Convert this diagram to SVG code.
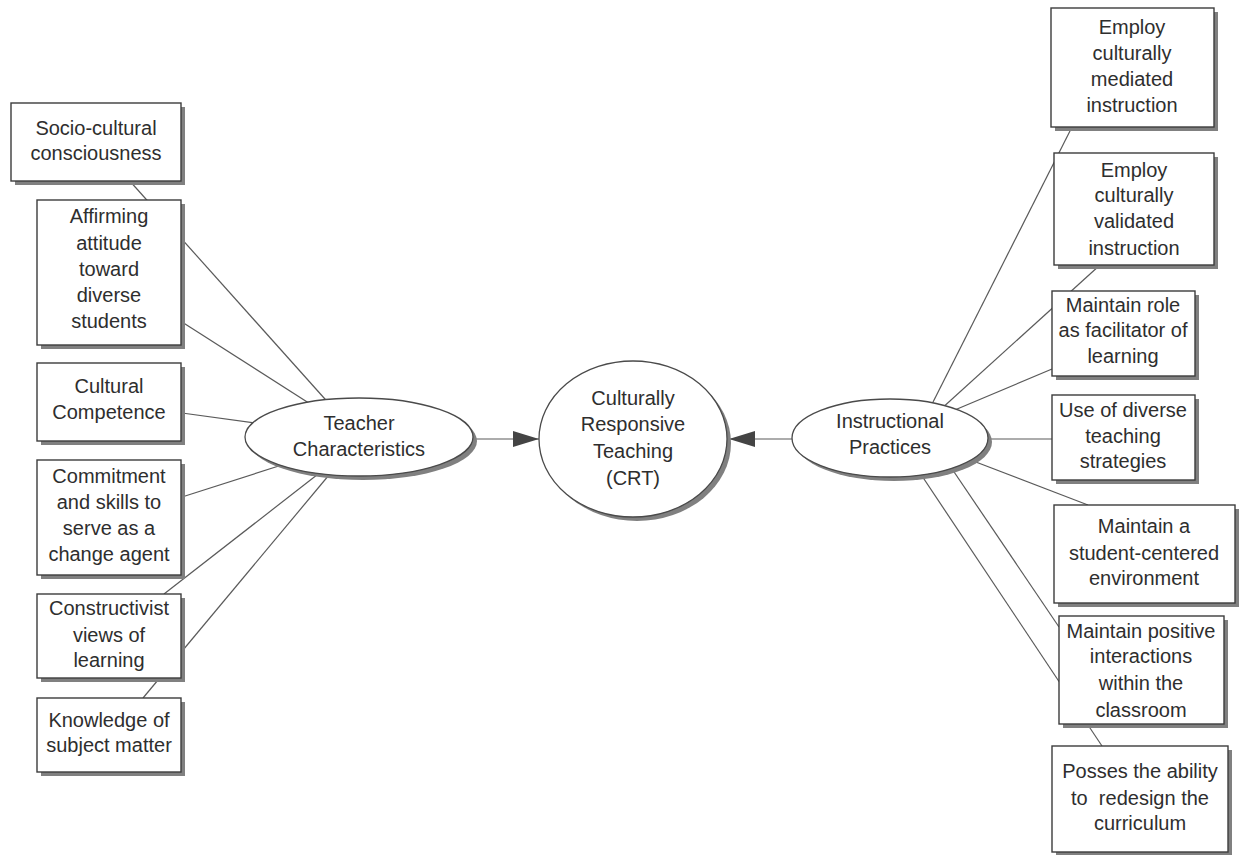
<svg xmlns="http://www.w3.org/2000/svg" width="1239" height="855" viewBox="0 0 1239 855">
<defs>
<style>
.bx{fill:#fff;stroke:#3c3c3c;stroke-width:1.4}
.sh{fill:#808080}
.el{fill:#fff;stroke:#4a4a4a;stroke-width:1.3}
.t{font-family:"Liberation Sans",Arial,sans-serif;font-size:20px;fill:#2e2e2e;text-anchor:middle}
.ln{stroke:#5a5a5a;stroke-width:1.2;fill:none}
</style>
<marker id="arr" markerWidth="26" markerHeight="16" refX="26" refY="8" orient="auto" markerUnits="userSpaceOnUse">
<path d="M0,0 L26,8 L0,16 z" fill="#444"/>
</marker>
</defs>
<rect width="1239" height="855" fill="#fff"/>
<g id="connectors">
<line class="ln" x1="128" y1="179" x2="333" y2="408"/>
<line class="ln" x1="182" y1="322" x2="315" y2="407"/>
<line class="ln" x1="182" y1="413" x2="262" y2="424"/>
<line class="ln" x1="182" y1="497" x2="285" y2="464"/>
<line class="ln" x1="164" y1="594" x2="322" y2="471"/>
<line class="ln" x1="143" y1="698" x2="334" y2="469"/>
<line class="ln" x1="1072" y1="127" x2="928" y2="412"/>
<line class="ln" x1="1100" y1="265" x2="940" y2="410"/>
<line class="ln" x1="1052" y1="369" x2="950" y2="412"/>
<line class="ln" x1="1052" y1="439" x2="980" y2="439"/>
<line class="ln" x1="1088" y1="505" x2="968" y2="459"/>
<line class="ln" x1="1059" y1="627" x2="948" y2="463"/>
<line class="ln" x1="1102" y1="746" x2="918" y2="470"/>
<line class="ln" x1="468" y1="439" x2="539" y2="439" marker-end="url(#arr)"/>
<line class="ln" x1="800" y1="439" x2="729" y2="439" marker-end="url(#arr)"/>
</g>
<g id="teacher-characteristics">
<ellipse class="sh" cx="363" cy="441" rx="114" ry="39"/>
<ellipse class="el" cx="359" cy="437" rx="114" ry="39"/>
<text class="t" x="359" y="430">Teacher</text>
<text class="t" x="359" y="456">Characteristics</text>
</g>
<g id="crt">
<ellipse class="sh" cx="637" cy="443" rx="94" ry="78"/>
<ellipse class="el" cx="633" cy="439" rx="94" ry="78"/>
<text class="t" x="633" y="405">Culturally</text>
<text class="t" x="633" y="431">Responsive</text>
<text class="t" x="633" y="458">Teaching</text>
<text class="t" x="633" y="485">(CRT)</text>
</g>
<g id="instructional-practices">
<ellipse class="sh" cx="894" cy="442" rx="98" ry="39"/>
<ellipse class="el" cx="890" cy="438" rx="98" ry="39"/>
<text class="t" x="890" y="428">Instructional</text>
<text class="t" x="890" y="454">Practices</text>
</g>
<g id="socio-cultural">
<rect class="sh" x="15" y="107" width="170" height="78"/>
<rect class="bx" x="11" y="103" width="170" height="78"/>
<text class="t" x="96" y="135">Socio-cultural</text>
<text class="t" x="96" y="160">consciousness</text>
</g>
<g id="affirming">
<rect class="sh" x="41" y="204" width="144" height="145"/>
<rect class="bx" x="37" y="200" width="144" height="145"/>
<text class="t" x="109" y="223">Affirming</text>
<text class="t" x="109" y="250">attitude</text>
<text class="t" x="109" y="276">toward</text>
<text class="t" x="109" y="302">diverse</text>
<text class="t" x="109" y="328">students</text>
</g>
<g id="cultural-competence">
<rect class="sh" x="41" y="367" width="144" height="78"/>
<rect class="bx" x="37" y="363" width="144" height="78"/>
<text class="t" x="109" y="393">Cultural</text>
<text class="t" x="109" y="419">Competence</text>
</g>
<g id="commitment">
<rect class="sh" x="41" y="464" width="144" height="115"/>
<rect class="bx" x="37" y="460" width="144" height="115"/>
<text class="t" x="109" y="483">Commitment</text>
<text class="t" x="109" y="509">and skills to</text>
<text class="t" x="109" y="535">serve as a</text>
<text class="t" x="109" y="561">change agent</text>
</g>
<g id="constructivist">
<rect class="sh" x="41" y="598" width="144" height="84"/>
<rect class="bx" x="37" y="594" width="144" height="84"/>
<text class="t" x="109" y="615">Constructivist</text>
<text class="t" x="109" y="642">views of</text>
<text class="t" x="109" y="667">learning</text>
</g>
<g id="knowledge">
<rect class="sh" x="41" y="702" width="144" height="74"/>
<rect class="bx" x="37" y="698" width="144" height="74"/>
<text class="t" x="109" y="727">Knowledge of</text>
<text class="t" x="109" y="752">subject matter</text>
</g>
<g id="mediated">
<rect class="sh" x="1055" y="12" width="163" height="119"/>
<rect class="bx" x="1051" y="8" width="163" height="119"/>
<text class="t" x="1132" y="34">Employ</text>
<text class="t" x="1132" y="60">culturally</text>
<text class="t" x="1132" y="86">mediated</text>
<text class="t" x="1132" y="112">instruction</text>
</g>
<g id="validated">
<rect class="sh" x="1058" y="157" width="160" height="112"/>
<rect class="bx" x="1054" y="153" width="160" height="112"/>
<text class="t" x="1134" y="177">Employ</text>
<text class="t" x="1134" y="202">culturally</text>
<text class="t" x="1134" y="228">validated</text>
<text class="t" x="1134" y="255">instruction</text>
</g>
<g id="facilitator">
<rect class="sh" x="1056" y="295" width="143" height="85"/>
<rect class="bx" x="1052" y="291" width="143" height="85"/>
<text class="t" x="1123" y="312">Maintain role</text>
<text class="t" x="1123" y="337">as facilitator of</text>
<text class="t" x="1123" y="363">learning</text>
</g>
<g id="diverse-strategies">
<rect class="sh" x="1056" y="399" width="143" height="85"/>
<rect class="bx" x="1052" y="395" width="143" height="85"/>
<text class="t" x="1123" y="417">Use of diverse</text>
<text class="t" x="1123" y="443">teaching</text>
<text class="t" x="1123" y="468">strategies</text>
</g>
<g id="student-centered">
<rect class="sh" x="1058" y="509" width="181" height="98"/>
<rect class="bx" x="1054" y="505" width="181" height="98"/>
<text class="t" x="1144" y="533">Maintain a</text>
<text class="t" x="1144" y="560">student-centered</text>
<text class="t" x="1144" y="585">environment</text>
</g>
<g id="positive-interactions">
<rect class="sh" x="1063" y="620" width="165" height="108"/>
<rect class="bx" x="1059" y="616" width="165" height="108"/>
<text class="t" x="1141" y="638">Maintain positive</text>
<text class="t" x="1141" y="663">interactions</text>
<text class="t" x="1141" y="690">within the</text>
<text class="t" x="1141" y="717">classroom</text>
</g>
<g id="redesign">
<rect class="sh" x="1056" y="750" width="176" height="106"/>
<rect class="bx" x="1052" y="746" width="176" height="106"/>
<text class="t" x="1140" y="778">Posses the ability</text>
<text class="t" x="1140" y="805" style="white-space:pre">to  redesign the</text>
<text class="t" x="1140" y="830">curriculum</text>
</g>
</svg>
